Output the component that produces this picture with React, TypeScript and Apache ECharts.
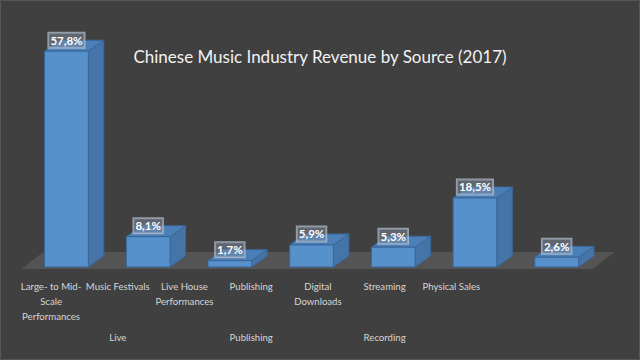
import React, { useEffect, useRef } from 'react';
import * as echarts from 'echarts';

const categories = [
  'Large- to Mid-\nScale\nPerformances',
  'Music Festivals',
  'Live House\nPerformances',
  'Publishing',
  'Digital\nDownloads',
  'Streaming',
  'Physical Sales',
];
const groupLabels = ['', 'Live', '', 'Publishing', '', 'Recording', ''];
const revenueShare = [57.8, 8.1, 1.7, 5.9, 5.3, 18.5, 2.6];
const titleText = 'Chinese Music Industry Revenue by Source (2017)';

const FONT = 'Lato, "Open Sans", sans-serif';

export default function App() {
  const ref = useRef<HTMLDivElement>(null);
  useEffect(() => {
    const chart = echarts.init(ref.current!, null, { renderer: 'svg' });
    const DX = 15.5;
    const DY = -11;
    const fmt = (v: number) => v.toFixed(1).replace('.', ',') + '%';

    const labelStyle = {
      interval: 0,
      color: '#d6d6d6',
      fontSize: 9.6,
      lineHeight: 15,
      margin: 3,
      fontFamily: FONT,
      hideOverlap: false,
    };

    const option: any = {
      animation: false,
      backgroundColor: '#404040',
      title: {
        text: titleText,
        left: 'center',
        top: 43,
        textStyle: { color: '#f2f2f2', fontSize: 17, fontWeight: 'normal', fontFamily: FONT },
      },
      graphic: [
        {
          type: 'rect',
          shape: { x: 0.5, y: 0.5, width: 639, height: 359 },
          style: { fill: 'none', stroke: '#575757', lineWidth: 1 },
          silent: true,
        },
      ],
      grid: [
        { left: 25.6, right: 42.5, top: 43, bottom: 93 },
        { left: 17.7, right: 155.3, top: 43, bottom: 84 },
      ],
      xAxis: [
        { type: 'category', gridIndex: 0, data: categories, show: false },
        {
          type: 'category',
          gridIndex: 1,
          data: categories,
          axisLine: { show: false },
          axisTick: { show: false },
          axisLabel: labelStyle,
        },
        {
          type: 'category',
          gridIndex: 1,
          data: groupLabels,
          position: 'bottom',
          offset: 51,
          axisLine: { show: false },
          axisTick: { show: false },
          axisLabel: labelStyle,
        },
      ],
      yAxis: [
        { type: 'value', gridIndex: 0, min: 0, max: 60, show: false },
        { type: 'value', gridIndex: 1, min: 0, max: 60, show: false },
      ],
      series: [
        {
          type: 'custom',
          xAxisIndex: 0,
          yAxisIndex: 0,
          data: [[0, 0]],
          silent: true,
          z: 1,
          renderItem: (params: any, api: any) => {
            const cs = params.coordSys;
            const y0 = api.coord([0, 0])[1];
            const yf = y0 + 2;
            const xl = cs.x - 4;
            const xr = cs.x + cs.width - 4.5;
            return {
              type: 'polygon',
              shape: {
                points: [
                  [xl, yf],
                  [xr, yf],
                  [xr + 21.5, yf - 17],
                  [xl + 21.5, yf - 17],
                ],
              },
              style: { fill: '#545454' },
            };
          },
        },
        {
          type: 'custom',
          xAxisIndex: 0,
          yAxisIndex: 0,
          z: 2,
          data: revenueShare.map((v, i) => [i, v]),
          renderItem: (params: any, api: any) => {
            const i = api.value(0);
            const v = api.value(1);
            const top = api.coord([i, v]);
            const base = api.coord([i, 0]);
            const w = api.size([1, 0])[0] * 0.535;
            const x0 = top[0] - w / 2;
            const x1 = top[0] + w / 2;
            const yt = top[1];
            const yb = base[1];
            const stroke = '#3a6798';
            return {
              type: 'group',
              children: [
                {
                  type: 'polygon',
                  shape: { points: [[x1, yb], [x1 + DX, yb + DY], [x1 + DX, yt + DY], [x1, yt]] },
                  style: { fill: '#4574a8', stroke, lineWidth: 1 },
                },
                {
                  type: 'polygon',
                  shape: { points: [[x0, yt], [x1, yt], [x1 + DX, yt + DY], [x0 + DX, yt + DY]] },
                  style: { fill: '#4b7fb8', stroke, lineWidth: 1 },
                },
                {
                  type: 'rect',
                  shape: { x: x0, y: yt, width: w, height: yb - yt },
                  style: { fill: '#5691cb', stroke, lineWidth: 1 },
                },
                {
                  type: 'text',
                  z2: 10,
                  style: {
                    text: fmt(v),
                    x: top[0],
                    y: yt + DY,
                    align: 'center',
                    verticalAlign: 'middle',
                    fill: '#ffffff',
                    font: 'bold 11.5px ' + FONT,
                    backgroundColor: 'rgba(125,140,160,0.5)',
                    borderColor: 'rgba(200,210,222,0.65)',
                    borderWidth: 1,
                    padding: [2, 2, 1, 2],
                  },
                },
              ],
            };
          },
        },
      ],
    };
    chart.setOption(option);
    return () => chart.dispose();
  }, []);
  return (
    <div
      ref={ref}
      style={{ position: 'fixed', left: 0, top: 0, width: 640, height: 360 }}
    />
  );
}
